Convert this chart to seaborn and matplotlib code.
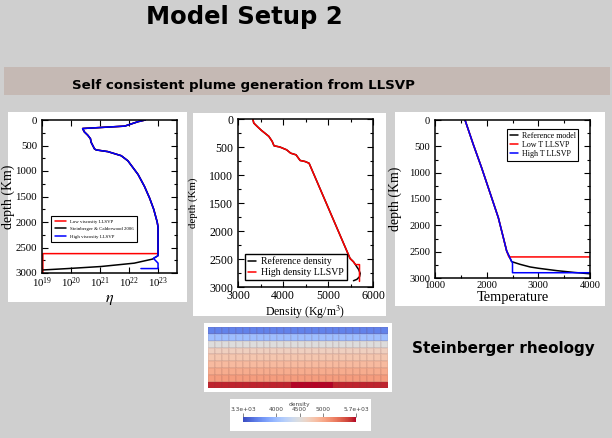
import numpy as np
import matplotlib
matplotlib.use("Agg")
import matplotlib.pyplot as plt
from matplotlib.patches import Rectangle
from matplotlib.ticker import MultipleLocator, AutoMinorLocator, LogLocator, NullFormatter
import seaborn as sns

# ---- panel 1: viscosity profiles (log10 eta vs depth in km) ----
visc_depth = [0, 33, 120, 167, 233, 300, 367, 433, 567, 587, 620, 700, 800, 1067, 1300, 1533, 1750, 2000, 2100, 2620]
visc_log = [22.56, 22.31, 21.85, 20.40, 20.46, 20.58, 20.67, 20.69, 20.81, 20.87, 21.27, 21.73, 21.96, 22.31,
            22.53, 22.71, 22.85, 22.97, 23.0, 23.0]
low_visc_depth = [2620, 2620, 3000]
low_visc_log = [23.0, 19.03, 19.03]
ref_visc_depth = [2660, 2727, 2807, 2873, 2913, 2940]
ref_visc_log = [23.0, 22.81, 22.18, 21.03, 19.89, 19.05]
high_visc_depth = [2660, 2713, 2807, 2913, 2913]
high_visc_log = [23.0, 22.84, 23.0, 23.0, 22.41]

# ---- panel 2: density profiles ----
dens_depth = [0, 72, 143, 203, 251, 310, 400, 478, 500, 550, 610, 640, 740, 759, 790, 2490, 2550, 2600]
dens_vals = [3330, 3350, 3440, 3520, 3595, 3685, 3760, 3800, 3930, 4080, 4170, 4290, 4380, 4490, 4580, 5490, 5566, 5610]
ref_dens_tail_depth = [2640, 2685, 2757, 2816, 2864, 2888]
ref_dens_tail = [5640, 5679, 5716, 5701, 5641, 5566]
high_dens_tail_depth = [2600, 2900]
high_dens_tail = [5700, 5700]

# ---- panel 3: temperature profiles ----
temp_depth = [0, 467, 909, 1383, 1856, 2235, 2487, 2600]
temp_vals = [1581, 1742, 1903, 2065, 2226, 2323, 2387, 2430]
ref_temp_tail_depth = [2689, 2740, 2790, 2815, 2860, 2895, 2920]
ref_temp_tail = [2484, 2645, 2839, 3000, 3355, 3700, 4000]
low_temp_tail_depth = [2600]
low_temp_tail = [4000]
high_temp_tail_depth = [2689, 2700, 2900, 2900]
high_temp_tail = [2484, 2500, 2500, 4000]

# ---- density snapshot (rows top -> bottom, LLSVP block in bottom row) ----
snap_rows = [3600, 4020, 4500, 4690, 4790, 4880, 4980, 5080, 5630]
snap_ncols = 26
llsvp_cols = [12, 13, 14, 15, 16, 17]
llsvp_density = 5780
cbar_ticks = [3300, 4000, 4500, 5000, 5700]
cbar_labels = ["3.3e+03", "4000", "4500", "5000", "5.7e+03"]

W, H = 612, 438
BG = "#cfcfcf"

sns.set_style("ticks")
plt.rcParams["font.family"] = ["Liberation Serif", "DejaVu Serif"]
plt.rcParams["mathtext.fontset"] = "stix"
for key in ["text.color", "axes.labelcolor", "xtick.color", "ytick.color"]:
    plt.rcParams[key] = "black"

fig = plt.figure(figsize=(W / 100, H / 100), dpi=100, facecolor=BG)


def box(x0, y0, x1, y1):
    return [x0 / W, 1 - y1 / H, (x1 - x0) / W, (y1 - y0) / H]


def white_patch(x0, y0, x1, y1, color="white"):
    fig.add_artist(Rectangle((x0 / W, 1 - y1 / H), (x1 - x0) / W, (y1 - y0) / H,
                             transform=fig.transFigure, facecolor=color, edgecolor="none", zorder=-1))


def style_axes(ax, lsize):
    ax.set_facecolor("white")
    for s in ax.spines.values():
        s.set_visible(True)
        s.set_color("black")
        s.set_linewidth(1.1)
    ax.tick_params(which="both", direction="in", top=True, right=True, labelsize=lsize,
                   colors="black", width=0.8)
    ax.tick_params(which="major", length=4)
    ax.tick_params(which="minor", length=2)
    ax.tick_params(axis="x", pad=2)


def trace(ax, x, y, color, label):
    sns.lineplot(x=x, y=y, sort=False, estimator=None, color=color, lw=1.1, label=label, ax=ax)


# title and banner
fig.text(244 / W, 1 - 24 / H, "Model Setup 2", ha="center", va="baseline",
         fontsize=17.5, fontweight="bold", family="DejaVu Sans", color="black")
white_patch(4, 67, 610, 95, color="#c5b9b4")
fig.text(243.5 / W, 1 - 88.5 / H, "Self consistent plume generation from LLSVP", ha="center",
         va="baseline", fontsize=9.6, fontweight="bold", family="DejaVu Sans", color="black")
fig.text(503 / W, 1 - 353 / H, "Steinberger rheology", ha="center", va="baseline",
         fontsize=11, fontweight="bold", family="DejaVu Sans", color="black")

# panel backgrounds
white_patch(8, 112, 187, 302)
white_patch(193, 113, 386, 316)
white_patch(395, 112, 605, 306)
white_patch(204, 323, 392, 392)
white_patch(230, 399, 371, 431)

# ---- panel 1 ----
ax1 = fig.add_axes(box(42, 120, 177, 273))
eta_common = 10.0 ** np.array(visc_log)
trace(ax1, np.concatenate([eta_common, 10.0 ** np.array(low_visc_log)]),
      visc_depth + low_visc_depth, "red", "Low viscosity LLSVP")
trace(ax1, np.concatenate([eta_common[:-1], 10.0 ** np.array(ref_visc_log)]),
      visc_depth[:-1] + ref_visc_depth, "black", "Steinberger & Calderwood 2006")
trace(ax1, np.concatenate([eta_common[:-1], 10.0 ** np.array(high_visc_log)]),
      visc_depth[:-1] + high_visc_depth, "blue", "High viscosity LLSVP")
ax1.set_xscale("log")
ax1.set_xlim(1e19, 4.5e23)
ax1.set_ylim(3000, 0)
ax1.set_xticks([1e19, 1e20, 1e21, 1e22, 1e23])
ax1.xaxis.set_minor_locator(LogLocator(base=10, subs=np.arange(2, 10)))
ax1.xaxis.set_minor_formatter(NullFormatter())
ax1.yaxis.set_major_locator(MultipleLocator(500))
ax1.yaxis.set_minor_locator(MultipleLocator(250))
style_axes(ax1, 7.8)
ax1.set_xlabel(r"$\eta$", fontsize=11.5)
ax1.set_ylabel("depth (Km)", fontsize=10)
ax1.yaxis.set_label_coords(-0.2, 0.5)
ax1.xaxis.set_label_coords(0.5, -0.118)
ax1.legend(loc="lower left", bbox_to_anchor=(0.067, 0.2), borderaxespad=0, fontsize=3.5,
           frameon=True, fancybox=False, edgecolor="black", framealpha=1, handlelength=2.2,
           borderpad=0.8, labelspacing=0.6)
ax1.get_legend().get_frame().set_linewidth(0.8)

# ---- panel 2 ----
ax2 = fig.add_axes(box(238, 119, 373, 287))
trace(ax2, dens_vals + ref_dens_tail, dens_depth + ref_dens_tail_depth, "black", "Reference density")
trace(ax2, dens_vals + high_dens_tail, dens_depth + high_dens_tail_depth, "red", "High density LLSVP")
ax2.set_xlim(3000, 6000)
ax2.set_ylim(3000, 0)
ax2.xaxis.set_major_locator(MultipleLocator(1000))
ax2.xaxis.set_minor_locator(AutoMinorLocator(2))
ax2.yaxis.set_major_locator(MultipleLocator(500))
ax2.yaxis.set_minor_locator(AutoMinorLocator(2))
style_axes(ax2, 8.6)
ax2.set_xlabel(r"Density (Kg/m$^3$)", fontsize=8.5)
ax2.set_ylabel("depth (Km)", fontsize=7.8)
ax2.yaxis.set_label_coords(-0.3, 0.5)
ax2.xaxis.set_label_coords(0.5, -0.102)
ax2.legend(loc="lower left", bbox_to_anchor=(0.05, 0.04), borderaxespad=0, fontsize=7,
           frameon=True, fancybox=False, edgecolor="black", framealpha=1, handlelength=0.9,
           borderpad=0.3, labelspacing=0.2, handletextpad=0.5)
ax2.get_legend().get_frame().set_linewidth(1.0)

# ---- panel 3 ----
ax3 = fig.add_axes(box(435, 120, 590, 278))
trace(ax3, temp_vals[:-1] + ref_temp_tail, temp_depth[:-1] + ref_temp_tail_depth, "black", "Reference model")
trace(ax3, temp_vals + low_temp_tail, temp_depth + low_temp_tail_depth, "red", "Low T LLSVP")
trace(ax3, temp_vals[:-1] + high_temp_tail, temp_depth[:-1] + high_temp_tail_depth, "blue", "High T LLSVP")
ax3.set_xlim(1000, 4000)
ax3.set_ylim(3000, 0)
ax3.xaxis.set_major_locator(MultipleLocator(1000))
ax3.xaxis.set_minor_locator(AutoMinorLocator(2))
ax3.yaxis.set_major_locator(MultipleLocator(500))
ax3.yaxis.set_minor_locator(AutoMinorLocator(2))
style_axes(ax3, 7.6)
ax3.set_xlabel("Temperature", fontsize=10.4)
ax3.set_ylabel("depth (Km)", fontsize=10)
ax3.yaxis.set_label_coords(-0.21, 0.5)
ax3.xaxis.set_label_coords(0.5, -0.085)
ax3.legend(loc="upper right", bbox_to_anchor=(0.925, 0.94), borderaxespad=0, fontsize=5.8,
           frameon=True, fancybox=False, edgecolor="black", framealpha=1, handlelength=1.0,
           borderpad=0.3, labelspacing=0.15, handletextpad=0.5)
ax3.get_legend().get_frame().set_linewidth(0.8)

# ---- density snapshot + colorbar ----
snap = np.tile(np.array(snap_rows, dtype=float)[:, None], (1, snap_ncols))
snap[-1, llsvp_cols] = llsvp_density
hax = fig.add_axes(box(208.3, 327.3, 387.7, 388.3))
cax = fig.add_axes(box(243, 417, 356, 422))
sns.heatmap(snap, ax=hax, cmap="coolwarm", vmin=3300, vmax=5700, cbar_ax=cax,
            cbar_kws={"orientation": "horizontal"}, xticklabels=False, yticklabels=False,
            linewidths=0.25, linecolor=(0.45, 0.25, 0.25, 0.08))
hax.tick_params(left=False, bottom=False)
cbar = hax.collections[0].colorbar
cbar.outline.set_visible(False)
cax.xaxis.set_ticks_position("top")
cax.set_xticks(cbar_ticks)
cax.set_xticklabels(cbar_labels, family="DejaVu Sans")
cax.tick_params(axis="x", direction="out", length=3, width=0.5, colors="#555555",
                labelsize=4.2, pad=0.5, labelcolor="#444444")
cax.set_title("density", fontsize=4.2, family="DejaVu Sans", color="#444444", pad=1)

fig.savefig("out.png", dpi=100, facecolor=BG)
